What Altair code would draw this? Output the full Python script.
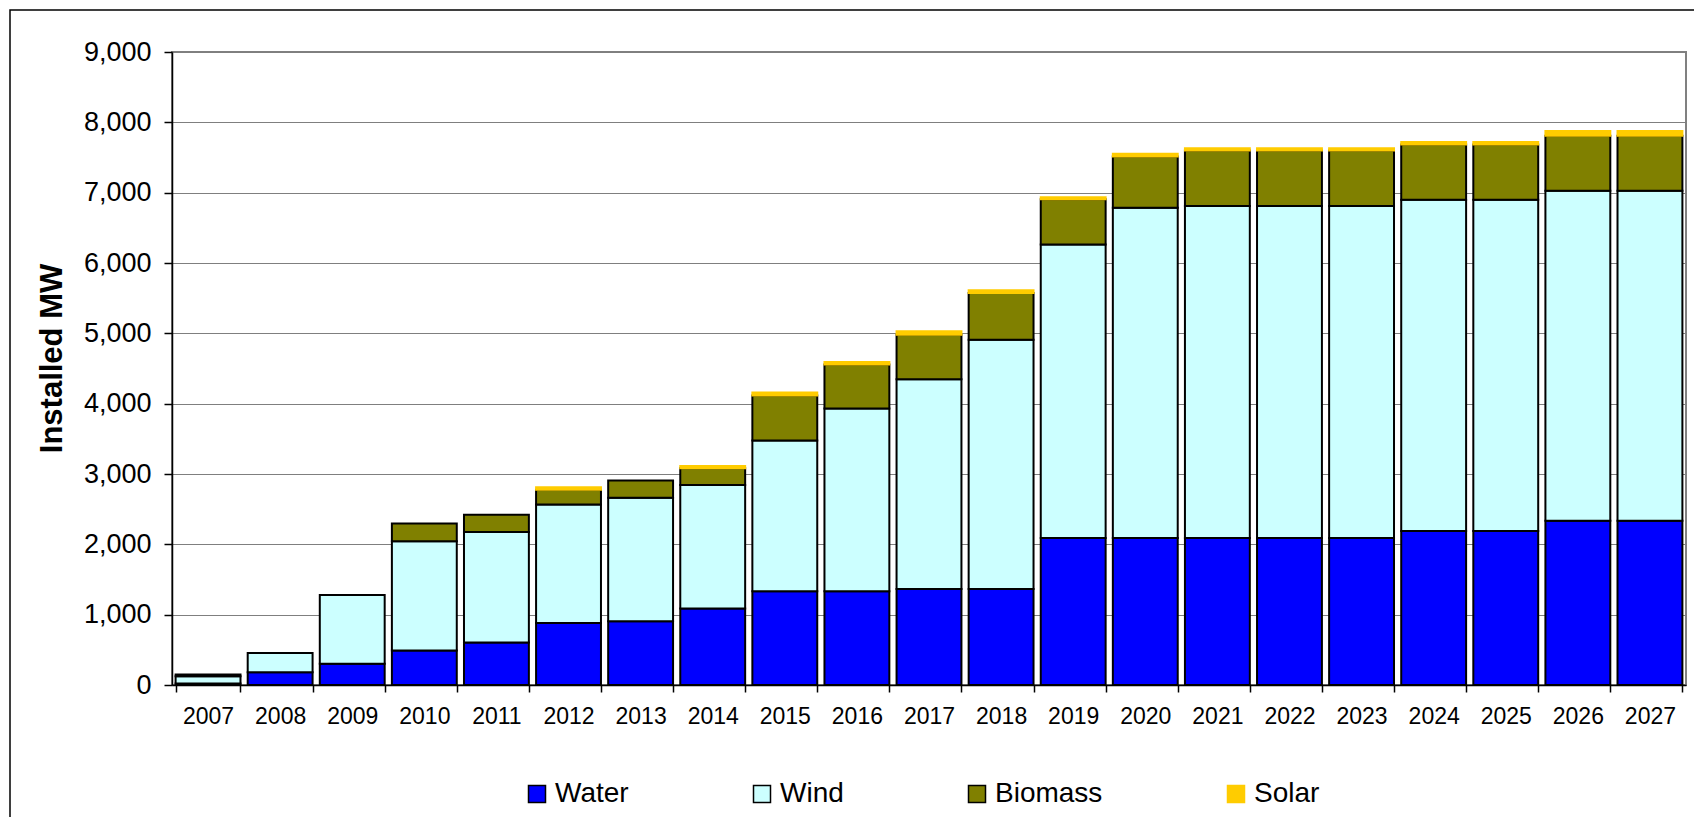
import altair as alt
import pandas as pd

years = [str(y) for y in range(2007, 2028)]
water = [20, 183, 303, 490, 605, 880, 905, 1088, 1333, 1333, 1366, 1366, 2090, 2090, 2090, 2090, 2090, 2190, 2190, 2337, 2337]
wind = [105, 272, 975, 1555, 1570, 1685, 1757, 1754, 2142, 2598, 2980, 3544, 4172, 4696, 4720, 4720, 4720, 4710, 4710, 4689, 4689]
biomass = [25, 0, 0, 250, 245, 210, 245, 240, 641, 625, 635, 665, 643, 728, 790, 790, 790, 786, 786, 784, 784]
solar = [0, 0, 0, 0, 0, 35, 0, 30, 42, 35, 50, 37, 30, 38, 33, 33, 33, 34, 34, 66, 66]

series = ["Water", "Wind", "Biomass", "Solar"]
fill_colors = ["#0000FF", "#CCFFFF", "#808000", "#FFCC00"]
stroke_colors = ["#000000", "#000000", "#000000", "#FFCC00"]
y_ticks = [0, 1000, 2000, 3000, 4000, 5000, 6000, 7000, 8000, 9000]

rows = []
for k, (name, vals) in enumerate(zip(series, [water, wind, biomass, solar])):
    for yr, v in zip(years, vals):
        if v > 0:
            rows.append({"year": yr, "source": name, "mw": v, "ord": k})
df = pd.DataFrame(rows)

W = 1514
H = 633
FONT = "Liberation Sans"

legend_kw = dict(
    title=None, orient="none", legendX=351, legendY=728, direction="horizontal",
    columns=4, symbolType="square", symbolSize=289, symbolStrokeWidth=1.5,
    labelFontSize=28, labelFont=FONT, labelColor="black", columnPadding=119,
    labelOffset=4, padding=0,
)

bars = alt.Chart(df).mark_bar(strokeWidth=2, strokeJoin="miter").encode(
    x=alt.X("year:O", title=None,
            scale=alt.Scale(paddingInner=0.1, paddingOuter=0.05),
            axis=alt.Axis(labelAngle=0, tickBand="extent", tickSize=7, labelPadding=13,
                          labelFontSize=23, domainColor="black", tickColor="black",
                          domainWidth=1.5, tickWidth=1.5, grid=False, labelColor="black")),
    y=alt.Y("mw:Q", stack="zero", title="Installed MW",
            scale=alt.Scale(domain=[0, 9000], nice=False),
            axis=alt.Axis(values=y_ticks, format=",d", grid=True, gridColor="#7f7f7f",
                          gridWidth=1.2, tickSize=8, labelPadding=13, labelFontSize=27,
                          labelColor="black", domainColor="black", tickColor="black",
                          domainWidth=1.5, tickWidth=1.5,
                          titleFontSize=31, titleFontWeight="bold", titleColor="black",
                          titleX=-120, titleY=306, titleAngle=270,
                          titleBaseline="middle", titleAlign="center")),
    color=alt.Color("source:N", scale=alt.Scale(domain=series, range=fill_colors),
                    legend=alt.Legend(**legend_kw)),
    stroke=alt.Stroke("source:N", scale=alt.Scale(domain=series, range=stroke_colors),
                      legend=alt.Legend(**legend_kw)),
    order=alt.Order("ord:Q", sort="ascending"),
)

frame = alt.Chart(alt.Data(values=[{"a": 1}])).mark_rect(
    filled=False, stroke="#000000", strokeWidth=1.5
).encode(
    x=alt.value(-162), x2=alt.value(W + 60), y=alt.value(-42), y2=alt.value(H + 300)
)

chart = alt.layer(frame, bars).properties(
    width=W, height=H,
    padding={"left": 172, "top": 52, "right": 8, "bottom": 132},
    autosize=alt.AutoSizeParams(type="none"),
    background="white",
).configure_view(
    stroke="#808080", strokeWidth=2
).configure_axis(
    labelFont=FONT, titleFont=FONT
)

chart.save("out.html", embed_options={"renderer": "svg", "actions": False})
